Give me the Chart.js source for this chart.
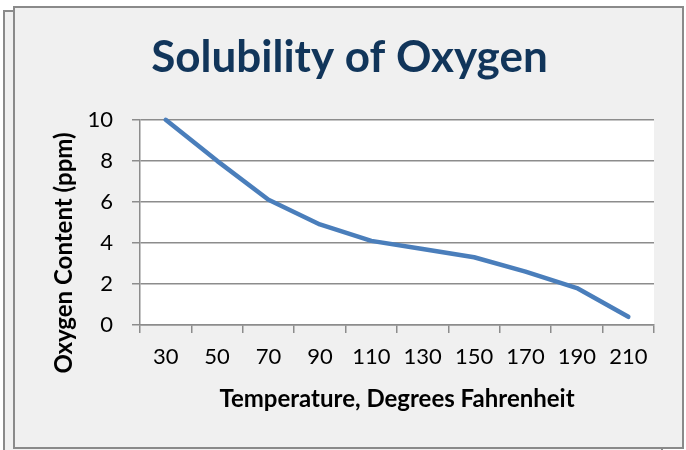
<!DOCTYPE html>
<html>
<head>
<meta charset="utf-8">
<script src="https://cdn.jsdelivr.net/npm/chart.js@4"></script>
<style>
  html, body { margin: 0; padding: 0; background: #fff; }
  #wrap { position: relative; width: 686px; height: 450px; overflow: hidden; }
  .frame { position: absolute; box-sizing: border-box; border: 2px solid #8a8a8a; background: #f0f0f0; }
  #back { left: 3px; top: 10px; width: 660px; height: 450px; }
  #front { left: 13px; top: 6px; width: 671px; height: 443px; }
  canvas { position: absolute; left: 0; top: 0; }
</style>
</head>
<body>
<div id="wrap">
  <div class="frame" id="back"></div>
  <div class="frame" id="front"></div>
  <canvas id="chart" width="686" height="450"></canvas>
</div>
<script>
// temperature categories (deg F) and oxygen content
const temps = ['30', '50', '70', '90', '110', '130', '150', '170', '190', '210'];
const oxygen = [10, 8.0, 6.1, 4.9, 4.1, 3.7, 3.3, 2.6, 1.8, 0.4];
const yTicks = [0, 2, 4, 6, 8, 10];

const gridColor = '#8c8c8c';

// white plot area like Excel
const plotBg = {
    id: 'plotBg',
    beforeDraw(chart) {
        const { ctx, chartArea: a } = chart;
        ctx.save();
        ctx.fillStyle = '#fff';
        ctx.fillRect(a.left, a.top, a.right - a.left, a.bottom - a.top);
        ctx.restore();
    }
};

// the y title in the original sits lower than the plot centre, so draw it here
const yTitle = {
    id: 'yTitle',
    afterDraw(chart) {
        const { ctx, chartArea: a } = chart;
        ctx.save();
        ctx.translate(64, a.bottom - 72);
        ctx.rotate(-Math.PI / 2);
        ctx.font = 'bold 24px Lato';
        ctx.fillStyle = '#000';
        ctx.textAlign = 'center';
        ctx.textBaseline = 'middle';
        ctx.fillText('Oxygen Content (ppm)', 0, 0);
        ctx.restore();
    }
};

new Chart(document.getElementById('chart'), {
    type: 'line',
    data: {
        labels: temps,
        datasets: [{
            label: 'Oxygen',
            data: oxygen,
            borderColor: '#4a7ebb',
            borderWidth: 4.5,
            pointRadius: 0,
            tension: 0,
            borderCapStyle: 'round',
            borderJoinStyle: 'round',
            clip: false
        }]
    },
    options: {
        responsive: false,
        animation: false,
        layout: { padding: { left: 45, right: 32, top: 0, bottom: 30 } },
        plugins: {
            legend: { display: false },
            tooltip: { enabled: false },
            title: {
                display: true,
                text: 'Solubility of Oxygen',
                color: '#11355a',
                font: { family: 'Lato', size: 44, weight: 'bold' },
                padding: { top: 31, bottom: 36 }
            }
        },
        scales: {
            x: {
                offset: true,
                grid: {
                    display: true,
                    drawOnChartArea: false,
                    offset: true,
                    color: gridColor,
                    tickLength: 8,
                    lineWidth: 1.5
                },
                border: { color: gridColor, width: 1.5 },
                ticks: {
                    color: '#000',
                    font: { family: 'Lato', size: 22 },
                    padding: 11,
                    maxRotation: 0,
                    autoSkip: false
                },
                title: {
                    display: true,
                    text: 'Temperature, Degrees Fahrenheit',
                    color: '#000',
                    font: { family: 'Lato', size: 24, weight: 'bold' },
                    padding: { top: 0, bottom: 6 }
                },
                afterFit(scale) { scale.height = 95; }
            },
            y: {
                min: 0,
                max: 10,
                afterBuildTicks(scale) { scale.ticks = yTicks.map(v => ({ value: v })); },
                grid: {
                    color: gridColor,
                    tickLength: 8,
                    lineWidth: 1.5
                },
                border: { color: gridColor, width: 1.5 },
                ticks: {
                    color: '#000',
                    font: { family: 'Lato', size: 22 },
                    padding: 19
                },
                title: { display: false },
                afterFit(scale) { scale.width = 95; }
            }
        }
    },
    plugins: [plotBg, yTitle]
});
</script>
</body>
</html>
